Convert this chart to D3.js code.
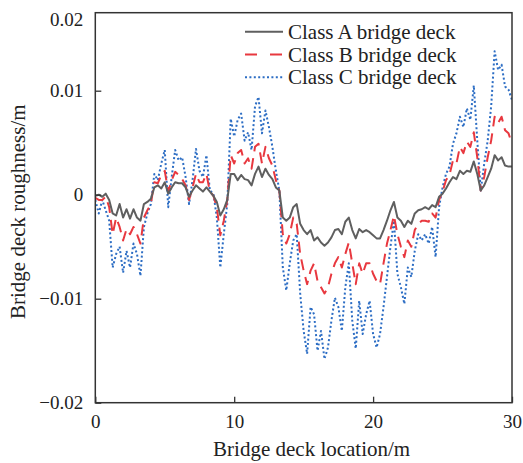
<!DOCTYPE html>
<html>
<head>
<meta charset="utf-8">
<script src="https://cdn.jsdelivr.net/npm/d3@7"></script>
<style>
  body { margin: 0; background: #fff; }
  text { font-family: "Liberation Serif", "Times New Roman", serif; fill: #222; }
</style>
</head>
<body>
<div id="chart"></div>
<script>
// posiciones a lo largo del tablero (m), cada 0.25 m
const positions = d3.range(0, 30.001, 0.25);

// rugosidad, en mm (se pasa a m abajo)
const classA = [
  -0.1, 0, -0.2, 0.1, -0.5, -1.8, -2.0, -0.9, -2.2, -1.4, -2.3, -1.4, -2.2, -2.5, -0.9, -0.7,
  -0.4, 0.7, 0.9, 0.6, 1.2, 0.1, 0.7, 1.2, 1.1, 1.1, 0.7, -0.2, 0.4, 0.9, 0.6, 0.3,
  0.7, 0.3, -0.1, -0.7, -2.0, -1.4, -0.5, 2.0, 2.0, 1.4, 1.9, 1.5, 1.4, 0.9, 2.0, 2.7,
  1.7, 2.5, 1.9, 1.5, 0.7, 0.4, -2.2, -2.5, -2.2, -1.2, -0.9, -2.8, -3.4, -3.8, -3.4, -4.4,
  -4.1, -4.6, -4.9, -4.6, -4.1, -3.4, -3.3, -3.8, -2.6, -2.2, -3.4, -4.2, -3.3, -3.6, -3.4, -3.6,
  -3.9, -4.2, -4.2, -3.4, -2.5, -1.5, -0.7, -2.2, -2.5, -3.1, -2.5, -2.8, -1.8, -1.5, -1.4, -1.2,
  -1.4, -1.0, -1.2, -0.2, 0.1, 0.6, 1.2, 1.7, 1.5, 2.3, 2.0, 2.3, 2.2, 3.2, 2.0, 0.4,
  0.9, 1.7, 2.5, 3.8, 3.3, 3.6, 2.8, 2.7, 2.7
];
const classB = [
  -0.3, -0.5, -0.5, -0.2, -1.2, -3.8, -2.2, -3.1, -4.4, -3.3, -3.8, -3.1, -3.8, -4.7, -2.2, -1.5,
  -0.9, 1.2, 1.1, 1.9, 2.3, 0.3, 1.4, 2.2, 1.9, 1.5, 0.9, -0.5, 0.7, 2.0, 1.2, 1.2,
  2.0, 0.3, -0.1, -1.2, -3.9, -2.5, -0.5, 3.8, 3.0, 4.0, 4.3, 3.0, 3.5, 2.5, 4.6, 4.9,
  3.0, 4.6, 3.5, 2.8, 1.4, 0.4, -3.8, -4.7, -3.8, -2.2, -2.8, -5.7, -7.3, -8.6, -7.3, -6.6,
  -8.3, -8.9, -9.5, -8.9, -7.6, -6.6, -6.0, -7.0, -5.7, -4.6, -6.6, -8.6, -6.6, -7.6, -6.6, -6.6,
  -7.6, -8.3, -8.6, -6.6, -4.7, -3.4, -2.0, -3.8, -5.0, -6.0, -4.4, -5.0, -3.4, -2.8, -2.5, -2.5,
  -2.6, -1.8, -2.2, -0.5, 0.3, 1.4, 1.9, 3.3, 3.0, 4.6, 4.0, 5.1, 4.6, 6.0, 3.6, 0.4,
  1.7, 3.6, 5.2, 7.5, 6.9, 7.5, 6.2, 5.9, 4.9
];
const classC = [
  -0.5, -1.8, -0.5, -1.5, -2.5, -7.0, -5.7, -5.0, -7.5, -5.4, -7.0, -4.7, -5.7, -7.8, -3.1, -1.8,
  -0.9, 2.0, 1.4, 3.0, 4.3, -1.2, 1.7, 4.3, 3.3, 3.6, 1.7, -0.9, 1.4, 4.4, 2.3, 1.7,
  3.8, 0.4, 0.1, -2.2, -7.0, -3.8, -0.9, 7.3, 5.6, 7.2, 7.8, 5.2, 6.0, 4.3, 8.5, 9.4,
  5.9, 8.1, 6.5, 4.6, 2.3, 0.4, -7.0, -9.2, -6.6, -4.4, -3.8, -9.5, -13.1, -15.3, -10.8, -11.5,
  -15.0, -13.1, -15.8, -14.7, -12.1, -9.9, -10.8, -13.1, -8.9, -6.6, -12.1, -14.8, -10.2, -13.4, -11.5, -10.2,
  -13.4, -14.7, -13.4, -10.8, -7.9, -5.0, -2.5, -7.6, -8.9, -10.5, -7.0, -7.9, -5.4, -3.8, -4.4, -3.8,
  -4.7, -3.1, -6.0, -1.2, 0.7, 2.0, 2.7, 4.9, 5.9, 7.5, 6.5, 8.3, 7.2, 10.5, 5.2, 0.4,
  3.0, 5.2, 8.5, 13.8, 12.0, 12.5, 10.4, 10.1, 9.1
];

const seriesNames = ['Class A bridge deck', 'Class B bridge deck', 'Class C bridge deck'];
const xTicks = [0, 10, 20, 30];
const yTicks = [-0.02, -0.01, 0, 0.01];

// estilos de cada serie
const styles = [
  { color: '#5f5f5f', dash: null, width: 2 },
  { color: '#e8383f', dash: '11,7', width: 2 },
  { color: '#2c6dc4', dash: '2,2.4', width: 2 }
];

const width = 523;
const height = 463;
const margin = { top: 12.7, right: 11, bottom: 60.3, left: 95.3 };
const innerW = width - margin.left - margin.right;
const innerH = height - margin.top - margin.bottom;

const svg = d3.select('#chart').append('svg')
    .attr('width', width)
    .attr('height', height);

const g = svg.append('g')
    .attr('transform', `translate(${margin.left},${margin.top})`);

const x = d3.scaleLinear().domain([0, 30]).range([0, innerW]);
// el marco superior queda en 0.0175 (el rotulo "0.02" va arriba)
const y = d3.scaleLinear().domain([-0.02, 0.0175]).range([innerH, 0]);

const series = [classA, classB, classC].map(arr =>
    arr.map((v, i) => ({ x: positions[i], y: v / 1000 })));

g.append('defs').append('clipPath').attr('id', 'clip')
  .append('rect').attr('width', innerW).attr('height', innerH);

const line = d3.line()
    .x(d => x(d.x))
    .y(d => y(d.y));

// dibujar C primero, luego B y A encima
[2, 1, 0].forEach(k => {
  g.append('path')
      .datum(series[k])
      .attr('clip-path', 'url(#clip)')
      .attr('fill', 'none')
      .attr('stroke', styles[k].color)
      .attr('stroke-width', styles[k].width)
      .attr('stroke-dasharray', styles[k].dash)
      .attr('stroke-linejoin', 'round')
      .attr('d', line);
});

// ejes con marcas hacia dentro
const xAxis = g.append('g')
    .attr('transform', `translate(0,${innerH})`)
    .call(d3.axisBottom(x).tickValues(xTicks).tickSize(-6).tickPadding(12).tickFormat(d3.format('d')));

const yAxis = g.append('g')
    .call(d3.axisLeft(y).tickValues(yTicks).tickSize(-6).tickPadding(12)
      .tickFormat(d => d === 0 ? '0' : d3.format('.2f')(d).replace('-', '\u2212')));

[xAxis, yAxis].forEach(a => {
  a.select('.domain').remove();
  a.selectAll('line').attr('stroke', '#333').attr('stroke-width', 1.3);
  a.selectAll('text').style('font-size', '19px').attr('fill', '#222');
});

// rotulo superior
g.append('text')
    .attr('x', -12)
    .attr('y', y(0.0175) + 13)
    .attr('text-anchor', 'end')
    .style('font-size', '19px')
    .text('0.02');

// marco
g.append('rect')
    .attr('width', innerW)
    .attr('height', innerH)
    .attr('fill', 'none')
    .attr('stroke', '#333')
    .attr('stroke-width', 1.5);

// titulos
svg.append('text')
    .attr('x', margin.left + innerW / 2 + 8)
    .attr('y', 456)
    .attr('text-anchor', 'middle')
    .style('font-size', '21px')
    .text('Bridge deck location/m');

svg.append('text')
    .attr('transform', `translate(25,${margin.top + innerH / 2 + 4}) rotate(-90)`)
    .attr('text-anchor', 'middle')
    .style('font-size', '21px')
    .text('Bridge deck roughness/m');

// leyenda
const legend = svg.append('g').attr('transform', 'translate(245,31.7)');
seriesNames.forEach((name, i) => {
  const row = legend.append('g').attr('transform', `translate(0,${i * 22.8})`);
  row.append('line')
      .attr('x1', 0).attr('x2', 38)
      .attr('stroke', styles[i].color)
      .attr('stroke-width', styles[i].width)
      .attr('stroke-dasharray', i === 1 ? '12,13' : styles[i].dash);
  row.append('text')
      .attr('x', 43)
      .attr('y', 7)
      .style('font-size', '21px')
      .text(name);
});
</script>
</body>
</html>
